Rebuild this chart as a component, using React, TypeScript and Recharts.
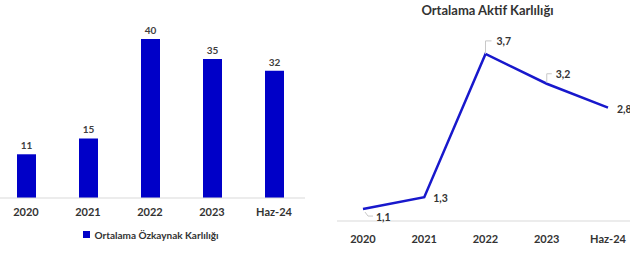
import { BarChart, Bar, LineChart, Line, XAxis, YAxis, Legend, LabelList } from "recharts";

const years = ["2020", "2021", "2022", "2023", "Haz-24"];
const ozkaynak = [11, 15, 40, 35, 32];
const aktif = [1.1, 1.3, 3.7, 3.2, 2.8];

const barData = years.map((y, i) => ({ year: y, value: ozkaynak[i] }));
const lineData = years.map((y, i) => ({ year: y, value: aktif[i] }));

const FONT = "Lato, 'Open Sans', sans-serif";

// label placement relative to each point: [dx, dy, leader?]
const labelOffsets: [number, number, string | null][] = [
  [13, 8, "M2,3 L5,7 L10,7"],
  [9, 1, null],
  [11, -13, "M0,0 L0,-13 L6,-13"],
  [9, -10, "M0,-1 L0,-10 L5,-10"],
  [9, 1, null],
];

function AktifLabel(props: any) {
  const { x, y, value, index } = props;
  const [dx, dy, leader] = labelOffsets[index];
  return (
    <g>
      {leader && (
        <path d={leader} transform={`translate(${x},${y})`} stroke="#c8c8c8" strokeWidth={1} fill="none" />
      )}
      <text x={x + dx} y={y + dy} dominantBaseline="central" fontSize={10.5} fontWeight={700} fill="#333" fontFamily={FONT}>
        {String(value).replace(".", ",")}
      </text>
    </g>
  );
}

export default function App() {
  return (
    <div style={{ position: "relative", width: 630, height: 253, overflow: "hidden", background: "#fff", fontFamily: FONT }}>
      <style>{`body{margin:0}`}</style>

      <div style={{ position: "absolute", left: -5, top: 0 }}>
        <BarChart width={310} height={253} data={barData} margin={{ top: 39, right: 0, bottom: 6, left: 0 }}>
          <XAxis
            dataKey="year"
            axisLine={{ stroke: "#d9d9d9" }}
            tickLine={false}
            tickMargin={4}
            tick={{ fontSize: 11, fontWeight: 700, fill: "#333", fontFamily: FONT }}
          />
          <YAxis hide domain={[0, 40]} />
          <Legend
            iconType="square"
            iconSize={7}
            wrapperStyle={{ bottom: 11, left: 6 }}
            formatter={(v) => <span style={{ color: "#333", fontSize: 10, fontWeight: 700 }}>{v}</span>}
          />
          <Bar dataKey="value" name="Ortalama Özkaynak Karlılığı" fill="#0000c8" barSize={19} isAnimationActive={false}>
            <LabelList dataKey="value" position="top" offset={5} fontSize={10} fontWeight={700} fill="#404040" fontFamily={FONT} />
          </Bar>
        </BarChart>
      </div>

      <div style={{ position: "absolute", left: 420, top: 2, width: 135, textAlign: "center", fontSize: 13, fontWeight: 700, color: "#333", whiteSpace: "nowrap" }}>
        Ortalama Aktif Karlılığı
      </div>

      <div style={{ position: "absolute", left: 337, top: 0 }}>
        <LineChart width={301} height={253} data={lineData} margin={{ top: 36, right: 0, bottom: 0, left: 0 }}>
          <XAxis
            dataKey="year"
            height={32}
            padding={{ left: 26, right: 30 }}
            interval={0}
            axisLine={{ stroke: "#d9d9d9" }}
            tickLine={false}
            tickMargin={8}
            tick={{ fontSize: 11, fontWeight: 700, fill: "#333", fontFamily: FONT }}
          />
          <YAxis hide domain={[0.9, 4.0]} />
          <Line type="linear" dataKey="value" stroke="#1818cc" strokeWidth={2.5} dot={false} isAnimationActive={false}>
            <LabelList dataKey="value" content={AktifLabel} />
          </Line>
        </LineChart>
      </div>
    </div>
  );
}
